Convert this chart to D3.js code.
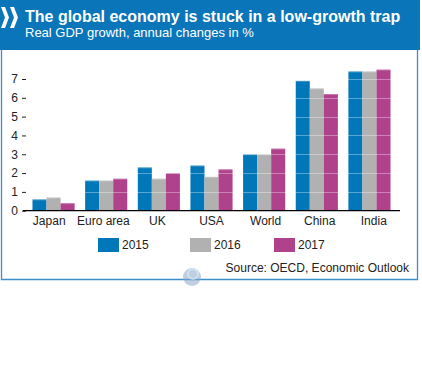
<!DOCTYPE html>
<html><head><meta charset="utf-8">
<script src="https://cdn.jsdelivr.net/npm/d3@7"></script>
<style>body{margin:0;background:#fff}svg{display:block}</style>
</head><body>
<script>
const categories = ["Japan","Euro area","UK","USA","World","China","India"];
const years = ["2015","2016","2017"];
const values2015 = [0.6,1.6,2.3,2.4,3.0,6.9,7.4];
const values2016 = [0.7,1.6,1.7,1.8,3.0,6.5,7.4];
const values2017 = [0.4,1.7,2.0,2.2,3.3,6.2,7.5];
const yTicks = [0,1,2,3,4,5,6,7];
const colors = ["#0077b8","#b1b1b1","#b0418b"];
const series = [values2015, values2016, values2017];

const W=422,H=365;
const svg=d3.select("body").append("svg").attr("width",W).attr("height",H);
const font="'Liberation Sans', Arial, sans-serif";

// header
svg.append("rect").attr("x",0).attr("y",0).attr("width",420).attr("height",50).attr("fill","#0a75b9");
// chevrons
const chev=(x0)=>`M${x0},7 L${x0+4},7 L${x0+8},17.5 L${x0+4},28 L${x0},28 L${x0+4},17.5 Z`;
svg.append("path").attr("d",chev(1)).attr("fill","#fff");
svg.append("path").attr("d",chev(10)).attr("fill","#fff");
svg.append("text").attr("x",25).attr("y",22).attr("fill","#fff").attr("font-family",font)
  .attr("font-weight","bold").attr("font-size",16).text("The global economy is stuck in a low-growth trap");
svg.append("text").attr("x",25).attr("y",37).attr("fill","#fff").attr("font-family",font)
  .attr("font-size",13).text("Real GDP growth, annual changes in %");

// frame
svg.append("path").attr("d","M1.5,50 L1.5,279.5 L417.5,279.5 L417.5,50").attr("fill","none")
  .attr("stroke","#3b8fc8").attr("stroke-width",1.3);

// scales
const x0=d3.scaleBand().domain(categories).range([23,400]).paddingInner(0.2).paddingOuter(0.18);
const x1=d3.scaleBand().domain(years).range([0,x0.bandwidth()]);
const xl=d3.scalePoint().domain(categories).range([48.7,373.3]);
const y=d3.scaleLinear().domain([0,7]).range([210.7,79]);

const g=svg.append("g");
categories.forEach((c,i)=>{
  years.forEach((yr,j)=>{
    const v=series[j][i];
    g.append("rect").attr("x",x0(c)+x1(yr)).attr("y",y(v)).attr("width",x1.bandwidth())
      .attr("height",y(0)-y(v)).attr("fill",colors[j]);
    g.append("rect").attr("x",x0(c)+x1(yr)).attr("y",y(v)).attr("width",x1.bandwidth())
      .attr("height",1).attr("fill","#fff").attr("opacity",0.25);
  });
});
// gridlines over bars
svg.append("g").selectAll("line").data(yTicks.filter(d=>d>0)).join("line")
  .attr("x1",23).attr("x2",400).attr("y1",d=>Math.round(y(d))+0.5).attr("y2",d=>Math.round(y(d))+0.5)
  .attr("stroke","#fff").attr("stroke-opacity",0.35);

// y axis
const ya=svg.append("g").attr("transform","translate(26,0)")
  .call(d3.axisLeft(y).tickValues(yTicks).tickSize(4).tickPadding(4).tickFormat(d3.format("d")));
ya.select(".domain").remove();
ya.selectAll("line").attr("stroke","#222");
ya.selectAll("text").attr("font-family",font).attr("font-size",12).attr("fill","#222");

// x axis
svg.append("line").attr("x1",23).attr("x2",400).attr("y1",y(0)).attr("y2",y(0)).attr("stroke","#000").attr("stroke-width",1.2);
const xa=svg.append("g").attr("transform",`translate(0,${y(0)})`).call(d3.axisBottom(xl).tickSize(0).tickPadding(6));
xa.select(".domain").remove();
xa.selectAll("text").attr("font-family",font).attr("font-size",12).attr("fill","#222");

// legend
const legX=[98,190,274];
years.forEach((yr,j)=>{
  svg.append("rect").attr("x",legX[j]).attr("y",238).attr("width",21).attr("height",14).attr("fill",colors[j]);
  svg.append("text").attr("x",legX[j]+24).attr("y",249).attr("font-family",font).attr("font-size",12)
    .attr("fill","#222").text(yr);
});

// watermark
svg.append("circle").attr("cx",192).attr("cy",277).attr("r",9).attr("fill","#8ea6c8").attr("opacity",0.55);
svg.append("circle").attr("cx",193).attr("cy",274).attr("r",5).attr("fill","none").attr("stroke","#cfe8ee").attr("stroke-width",1.5);

svg.append("text").attr("x",409).attr("y",271.5).attr("text-anchor","end").attr("font-family",font)
  .attr("font-size",12).attr("fill","#222").text("Source: OECD, Economic Outlook");
</script>
</body></html>
